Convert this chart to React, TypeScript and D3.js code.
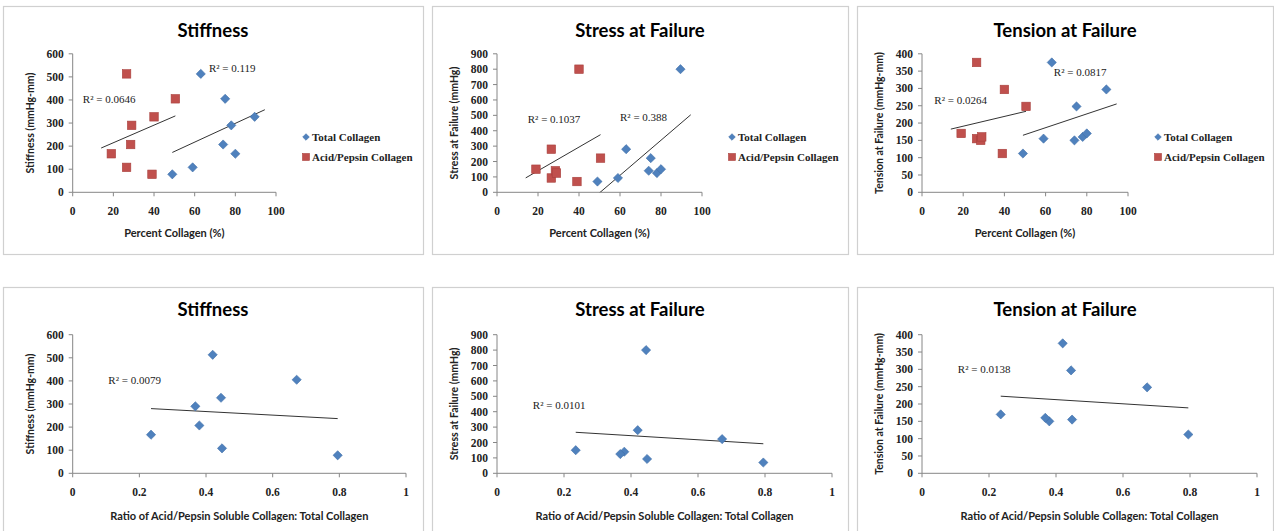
import React from "react";
import * as d3 from "d3";

// ---------- data ----------
const totalCollagen = [49, 59, 63, 74, 75, 78, 80, 89.5];
const acidPepsinCollagen = [39, 26.5, 26.5, 28.5, 50.5, 29, 19, 40];
const collagenRatio = [0.795, 0.448, 0.42, 0.38, 0.672, 0.368, 0.235, 0.445];
const stiffness = [78, 108, 513, 207, 405, 290, 167, 327];
const stressAtFailure = [70, 93, 280, 140, 222, 125, 150, 800];
const tensionAtFailure = [112, 155, 375, 150, 248, 160, 170, 297];

const percentTicks = [0, 20, 40, 60, 80, 100];
const ratioTicks = [0, 0.2, 0.4, 0.6, 0.8, 1];
const stiffnessTicks = [0, 100, 200, 300, 400, 500, 600];
const stressTicks = [0, 100, 200, 300, 400, 500, 600, 700, 800, 900];
const tensionTicks = [0, 50, 100, 150, 200, 250, 300, 350, 400];

const seriesNames = ["Total Collagen", "Acid/Pepsin Collagen"];
const titles = ["Stiffness", "Stress at Failure", "Tension at Failure"];
const yTitles = ["Stiffness (mmHg-mm)", "Stress at Failure (mmHg)", "Tension at Failure (mmHg-mm)"];
const xTitleTop = "Percent Collagen (%)";
const xTitleBottom = "Ratio of Acid/Pepsin Soluble Collagen: Total Collagen";

// R² labels: [total, acid/pepsin] for the top row, single for bottom row
const r2TopTotal = ["R² = 0.119", "R² = 0.388", "R² = 0.0817"];
const r2TopAcid = ["R² = 0.0646", "R² = 0.1037", "R² = 0.0264"];
const r2Bottom = ["R² = 0.0079", "R² = 0.0101", "R² = 0.0138"];

// ---------- layout ----------
const COLORS = { blue: "#4F81BD", red: "#C0504D" };
const frameX = [3, 432, 857];
const frameW = [420, 416, 416];
const plotLeft = [72.7, 497, 922];
const plotRightTop = [276, 702, 1128];
const plotRightBottom = [406, 832, 1257];
const TOP = { frameY: 6, frameH: 248, y0: 192.3, y1: 53.8, titleY: 30, xTitleY: 232 };
const BOT = { frameY: 287, frameH: 250, y0: 473.3, y1: 334.7, titleY: 309, xTitleY: 515 };
// label anchors in data units
const r2TopTotalPos = [[67, 540], [60, 488], [64, 347]];
const r2TopAcidPos = [[5, 405], [15, 477], [6, 266]];
const r2BottomPos = [[0.107, 406], [0.107, 444], [0.107, 301]];

const SERIF = "'Liberation Serif', 'DejaVu Serif', serif";
const SANS = "Lato, 'Open Sans', sans-serif";

function regression(xs: number[], ys: number[]) {
  const mx = d3.mean(xs)!;
  const my = d3.mean(ys)!;
  let sxy = 0, sxx = 0;
  xs.forEach((x, i) => {
    sxy += (x - mx) * (ys[i] - my);
    sxx += (x - mx) * (x - mx);
  });
  const slope = sxy / sxx;
  return { slope, intercept: my - slope * mx };
}

function Diamond({ x, y, r = 4.6 }: { x: number; y: number; r?: number }) {
  return (
    <path
      d={`M${x},${y - r}L${x + r},${y}L${x},${y + r}L${x - r},${y}Z`}
      fill={COLORS.blue}
      stroke="#3f6fa8"
      strokeWidth={0.6}
    />
  );
}
function Square({ x, y, s = 8.5 }: { x: number; y: number; s?: number }) {
  return (
    <rect x={x - s / 2} y={y - s / 2} width={s} height={s} fill={COLORS.red} stroke="#a8403d" strokeWidth={0.6} />
  );
}

type Series = { xs: number[]; ys: number[]; kind: "diamond" | "square"; extent: [number, number]; label: string; labelPos: number[] };

function Panel({
  idx, row, yTicks, xTicks, xDomain, series, legend,
}: {
  idx: number; row: "top" | "bottom"; yTicks: number[]; xTicks: number[]; xDomain: [number, number];
  series: Series[]; legend: boolean;
}) {
  const L = row === "top" ? TOP : BOT;
  const left = plotLeft[idx];
  const right = row === "top" ? plotRightTop[idx] : plotRightBottom[idx];
  const x = d3.scaleLinear().domain(xDomain).range([left, right]);
  const y = d3.scaleLinear().domain([0, yTicks[yTicks.length - 1]]).range([L.y0, L.y1]);
  const clipId = `clip-${row}-${idx}`;
  const axisColor = "#868686";
  const fmtX = (v: number) => (xDomain[1] === 1 ? d3.format("~g")(v) : String(v));
  const line = d3.line<[number, number]>().x((d) => x(d[0])).y((d) => y(d[1]));
  return (
    <g>
      <rect x={frameX[idx] + 0.5} y={L.frameY + 0.5} width={frameW[idx]} height={L.frameH} fill="#fff" stroke="#d0d0d0" strokeWidth={1.2} />
      <clipPath id={clipId}>
        <rect x={left} y={L.y1 - 6} width={right - left} height={L.y0 - L.y1 + 6} />
      </clipPath>
      <text x={frameX[idx] + frameW[idx] / 2} y={L.titleY} textAnchor="middle" dominantBaseline="central" fontFamily={SANS} fontWeight={700} fontSize={18.5} fill="#000">
        {titles[idx]}
      </text>
      {/* axes */}
      <line x1={left} x2={left} y1={L.y1} y2={L.y0} stroke={axisColor} />
      <line x1={left} x2={right} y1={L.y0} y2={L.y0} stroke={axisColor} />
      {yTicks.map((t) => (
        <g key={`y${t}`}>
          <line x1={left - 4} x2={left} y1={y(t)} y2={y(t)} stroke={axisColor} />
          <text x={left - 9} y={y(t)} textAnchor="end" dominantBaseline="central" fontFamily={SERIF} fontWeight={700} fontSize={11.5} fill="#222">
            {t}
          </text>
        </g>
      ))}
      {xTicks.map((t) => (
        <g key={`x${t}`}>
          <line x1={x(t)} x2={x(t)} y1={L.y0} y2={L.y0 + 4} stroke={axisColor} />
          <text x={x(t)} y={L.y0 + 19} textAnchor="middle" dominantBaseline="central" fontFamily={SERIF} fontWeight={700} fontSize={11.5} fill="#222">
            {fmtX(t)}
          </text>
        </g>
      ))}
      <text x={(left + right) / 2} y={L.xTitleY} textAnchor="middle" dominantBaseline="central" fontFamily={SANS} fontWeight={700} fontSize={11} fill="#222">
        {row === "top" ? xTitleTop : xTitleBottom}
      </text>
      <text
        transform={`translate(${left - 43},${(L.y0 + L.y1) / 2}) rotate(-90)`}
        textAnchor="middle" dominantBaseline="central" fontFamily={SANS} fontWeight={700} fontSize={10.5} fill="#222"
      >
        {yTitles[idx]}
      </text>
      {/* trendlines */}
      {series.map((s, si) => {
        const { slope, intercept } = regression(s.xs, s.ys);
        const pts: [number, number][] = s.extent.map((xv) => [xv, slope * xv + intercept] as [number, number]);
        return <path key={`t${si}`} d={line(pts)!} stroke="#333" strokeWidth={1} fill="none" clipPath={`url(#${clipId})`} />;
      })}
      {/* markers */}
      {series.map((s, si) =>
        s.xs.map((xv, i) =>
          s.kind === "diamond" ? <Diamond key={`m${si}-${i}`} x={x(xv)} y={y(s.ys[i])} /> : <Square key={`m${si}-${i}`} x={x(xv)} y={y(s.ys[i])} />
        )
      )}
      {/* R² labels */}
      {series.map((s, si) => (
        <text key={`r${si}`} x={x(s.labelPos[0])} y={y(s.labelPos[1])} dominantBaseline="central" fontFamily={SERIF} fontSize={11} fill="#222">
          {s.label}
        </text>
      ))}
      {legend && (
        <g>
          <Diamond x={right + 30} y={137} r={3.3} />
          <text x={right + 36} y={137} dominantBaseline="central" fontFamily={SERIF} fontWeight={700} fontSize={11} fill="#222">
            {seriesNames[0]}
          </text>
          <Square x={right + 30} y={157} s={7} />
          <text x={right + 36} y={157} dominantBaseline="central" fontFamily={SERIF} fontWeight={700} fontSize={11} fill="#222">
            {seriesNames[1]}
          </text>
        </g>
      )}
    </g>
  );
}

const measures = [stiffness, stressAtFailure, tensionAtFailure];
const measureTicks = [stiffnessTicks, stressTicks, tensionTicks];

export default function App() {
  const extTotal: [number, number] = [d3.min(totalCollagen)!, d3.max(totalCollagen)! + 5];
  const extAcid: [number, number] = [d3.min(acidPepsinCollagen)! - 5, d3.max(acidPepsinCollagen)!];
  const extRatio: [number, number] = [d3.min(collagenRatio)!, d3.max(collagenRatio)!];
  return (
    <svg width={1274} height={531} style={{ position: "absolute", left: 0, top: 0, background: "#fff" }}>
      <rect width={1274} height={531} fill="#fff" />
      {measures.map((m, i) => (
        <Panel
          key={`top${i}`}
          idx={i}
          row="top"
          yTicks={measureTicks[i]}
          xTicks={percentTicks}
          xDomain={[0, 100]}
          legend
          series={[
            { xs: totalCollagen, ys: m, kind: "diamond", extent: extTotal, label: r2TopTotal[i], labelPos: r2TopTotalPos[i] },
            { xs: acidPepsinCollagen, ys: m, kind: "square", extent: extAcid, label: r2TopAcid[i], labelPos: r2TopAcidPos[i] },
          ]}
        />
      ))}
      {measures.map((m, i) => (
        <Panel
          key={`bot${i}`}
          idx={i}
          row="bottom"
          yTicks={measureTicks[i]}
          xTicks={ratioTicks}
          xDomain={[0, 1]}
          legend={false}
          series={[{ xs: collagenRatio, ys: m, kind: "diamond", extent: extRatio, label: r2Bottom[i], labelPos: r2BottomPos[i] }]}
        />
      ))}
    </svg>
  );
}
